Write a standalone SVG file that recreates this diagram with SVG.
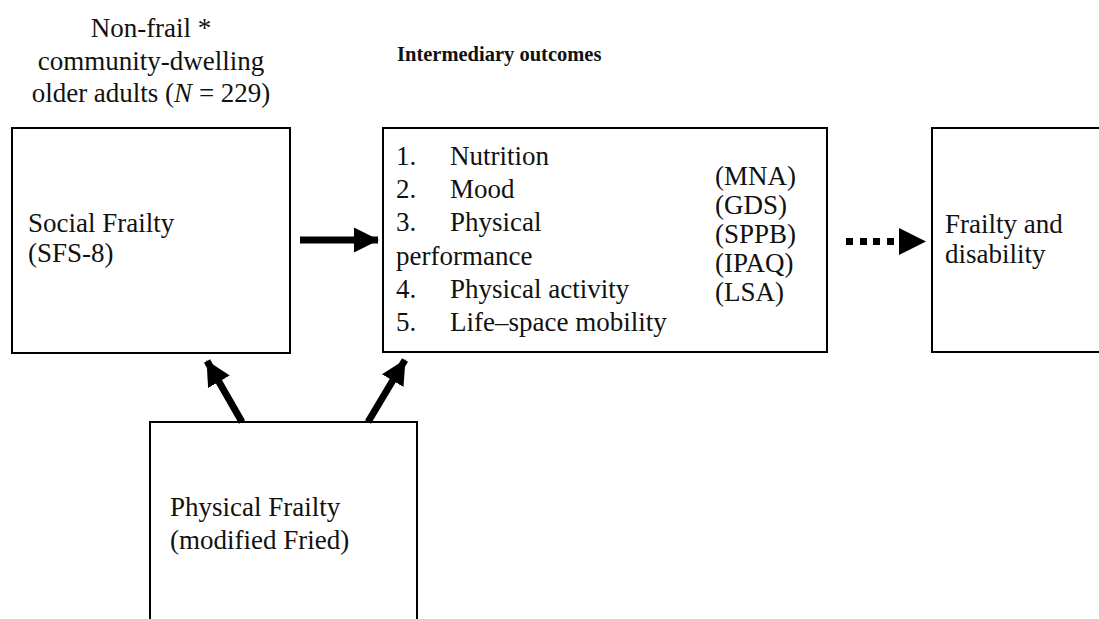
<svg xmlns="http://www.w3.org/2000/svg" width="1099" height="619" viewBox="0 0 1099 619">
<defs>
<style>
.box{fill:#fff;stroke:#000;stroke-width:2}
text{font-family:"Liberation Serif","DejaVu Serif",serif;font-size:27px;fill:#111}
.b{font-weight:bold;font-size:20.5px}
.shaft{stroke:#000;stroke-width:7;fill:none}
</style>
<marker id="ah" markerUnits="userSpaceOnUse" markerWidth="26" markerHeight="26" viewBox="0 0 26 26" refX="24" refY="13" orient="auto">
<path d="M0,0.5 L25,13 L0,25.5 Z" fill="#000"/>
</marker>
</defs>
<rect width="1099" height="619" fill="#fff"/>
<g id="header">
<text x="151" y="37" text-anchor="middle">Non-frail *</text>
<text x="151" y="70" text-anchor="middle">community-dwelling</text>
<text x="151" y="102" text-anchor="middle">older adults (<tspan font-style="italic">N</tspan> = 229)</text>
<text x="397" y="61" class="b">Intermediary outcomes</text>
</g>
<g id="social-frailty">
<rect class="box" x="12" y="128" width="278" height="225"/>
<text x="28" y="232">Social Frailty</text>
<text x="28" y="262">(SFS-8)</text>
</g>
<g id="intermediary">
<rect class="box" x="383" y="128" width="444" height="224"/>
<text x="396" y="165">1.</text><text x="450" y="165">Nutrition</text>
<text x="396" y="198">2.</text><text x="450" y="198">Mood</text>
<text x="396" y="231">3.</text><text x="450" y="231">Physical</text>
<text x="396" y="265">performance</text>
<text x="396" y="298">4.</text><text x="450" y="298">Physical activity</text>
<text x="396" y="331">5.</text><text x="450" y="331">Life–space mobility</text>
<text x="715" y="185">(MNA)</text>
<text x="715" y="214">(GDS)</text>
<text x="715" y="243">(SPPB)</text>
<text x="715" y="272">(IPAQ)</text>
<text x="715" y="301">(LSA)</text>
</g>
<g id="frailty-disability">
<rect class="box" x="932" y="128" width="180" height="224"/>
<text x="945" y="233">Frailty and</text>
<text x="945" y="263">disability</text>
</g>
<g id="physical-frailty">
<rect class="box" x="150" y="422" width="267" height="210"/>
<text x="170" y="516">Physical Frailty</text>
<text x="170" y="549">(modified Fried)</text>
</g>
<g id="connectors">
<line class="shaft" x1="300" y1="240" x2="378" y2="240" marker-end="url(#ah)"/>
<line class="shaft" x1="242" y1="422" x2="207" y2="361" marker-end="url(#ah)"/>
<line class="shaft" x1="368" y1="422" x2="405" y2="360" marker-end="url(#ah)"/>
<g fill="#000">
<rect x="846" y="238" width="7" height="7"/>
<rect x="860" y="238" width="7" height="7"/>
<rect x="873" y="238" width="7" height="7"/>
<rect x="887" y="238" width="7" height="7"/>
<path d="M899,228 L926,241.5 L899,255 Z"/>
</g>
</g>
</svg>
